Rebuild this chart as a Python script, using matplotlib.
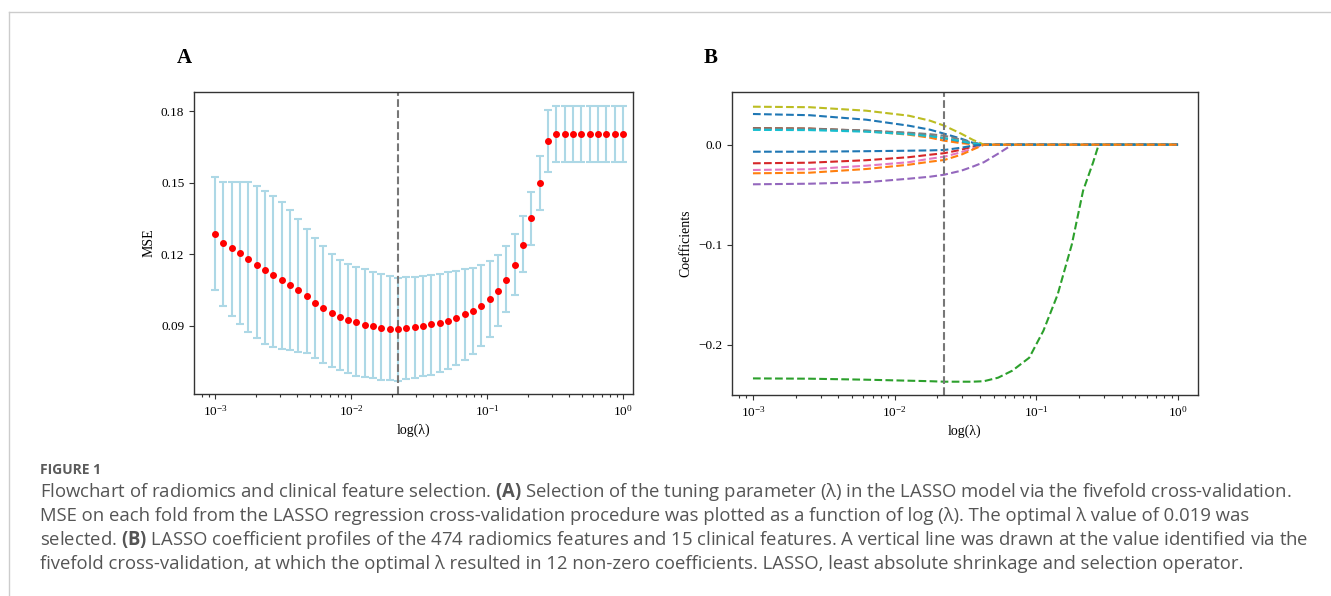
import numpy as np
import matplotlib
matplotlib.use('Agg')
import matplotlib.pyplot as plt
from matplotlib.lines import Line2D

plt.rcParams['font.family'] = ['Liberation Serif', 'DejaVu Serif']
plt.rcParams['mathtext.fontset'] = 'custom'
plt.rcParams['mathtext.bf'] = 'Open Sans:bold'

# ---- panel A: 5-fold CV curve ----
lambdas = np.logspace(-3, 0, 50)
best_idx = 22

mse_mean = [0.1284, 0.1247, 0.1226, 0.1206, 0.1180, 0.1156, 0.1133, 0.1114, 0.1093, 0.1072,
            0.1050, 0.1024, 0.0998, 0.0974, 0.0953, 0.0938, 0.0924, 0.0915, 0.0906, 0.0899,
            0.0893, 0.0887, 0.0886, 0.0892, 0.0896, 0.0901, 0.0907, 0.0913, 0.0921, 0.0935,
            0.0949, 0.0964, 0.0984, 0.1012, 0.1047, 0.1094, 0.1157, 0.1241, 0.1351, 0.1498,
            0.1676, 0.1702, 0.1702, 0.1702, 0.1702, 0.1702, 0.1702, 0.1702, 0.1702, 0.1702]
mse_upper = [0.1522, 0.1505, 0.1505, 0.1505, 0.1501, 0.1487, 0.1466, 0.1444, 0.1418, 0.1384,
             0.1347, 0.1307, 0.1268, 0.1233, 0.1203, 0.1175, 0.1161, 0.1147, 0.1137, 0.1128,
             0.1117, 0.1111, 0.1101, 0.1104, 0.1105, 0.1110, 0.1114, 0.1118, 0.1126, 0.1132,
             0.1137, 0.1143, 0.1154, 0.1172, 0.1196, 0.1234, 0.1287, 0.1360, 0.1462, 0.1613,
             0.1804, 0.1821, 0.1821, 0.1821, 0.1821, 0.1821, 0.1821, 0.1821, 0.1821, 0.1821]
mse_lower = [0.1051, 0.0984, 0.0943, 0.0908, 0.0876, 0.0848, 0.0826, 0.0812, 0.0804, 0.0801,
             0.0792, 0.0785, 0.0767, 0.0746, 0.0729, 0.0714, 0.0703, 0.0692, 0.0686, 0.0681,
             0.0674, 0.0672, 0.0669, 0.0676, 0.0682, 0.0690, 0.0696, 0.0707, 0.0720, 0.0738,
             0.0756, 0.0784, 0.0816, 0.0852, 0.0899, 0.0957, 0.1031, 0.1125, 0.1241, 0.1385,
             0.1546, 0.1585, 0.1585, 0.1585, 0.1585, 0.1585, 0.1585, 0.1585, 0.1585, 0.1585]

# ---- panel B: coefficient paths (log10 lambda grid) ----
log_lam_b = [-3.0, -2.6, -2.2, -1.9, -1.75, -1.65, -1.53, -1.45, -1.37, -1.27,
             -1.17, -1.05, -0.95, -0.85, -0.75, -0.67, -0.60, -0.56, 0.0]
z10 = [0.0] * 10
coef_paths = [
    # blue (top)
    [0.0307, 0.0295, 0.025, 0.019, 0.015, 0.011, 0.006, 0.002, 0.0] + z10,
    # orange
    [0.0165, 0.016, 0.0135, 0.010, 0.007, 0.004, 0.0015, 0.0005, 0.0] + z10,
    # green
    [-0.2337, -0.234, -0.235, -0.236, -0.2365, -0.237, -0.237, -0.237, -0.2365, -0.233,
     -0.226, -0.213, -0.186, -0.150, -0.100, -0.046, -0.018, 0.0, 0.0],
    # red
    [-0.0186, -0.018, -0.0155, -0.0125, -0.010, -0.0085, -0.005, -0.002, 0.0] + z10,
    # purple
    [-0.0396, -0.039, -0.0375, -0.034, -0.032, -0.030, -0.026, -0.022, -0.0175, -0.009,
     0.0, 0.0, 0.0, 0.0, 0.0, 0.0, 0.0, 0.0, 0.0],
    # brown
    [0.0165, 0.0162, 0.014, 0.0115, 0.009, 0.0065, 0.003, 0.001, 0.0] + z10,
    # pink
    [-0.0253, -0.0245, -0.021, -0.0175, -0.014, -0.012, -0.0075, -0.004, 0.0] + z10,
    # gray
    [0.016, 0.0158, 0.014, 0.012, 0.0105, 0.009, 0.005, 0.002, 0.0] + z10,
    # olive
    [0.038, 0.0375, 0.034, 0.029, 0.024, 0.019, 0.011, 0.005, 0.0] + z10,
    # cyan
    [0.0148, 0.0146, 0.013, 0.0105, 0.0085, 0.0065, 0.0035, 0.0012, 0.0] + z10,
    # blue (second)
    [-0.007, -0.007, -0.0065, -0.006, -0.0057, -0.0053, -0.003, -0.001, 0.0] + z10,
    # orange (second)
    [-0.0286, -0.028, -0.0243, -0.020, -0.017, -0.0153, -0.010, -0.005, 0.0] + z10,
]

W, H = 1331, 596
fig = plt.figure(figsize=(W / 100, H / 100), dpi=100)

def style_axes(ax):
    for sp in ax.spines.values():
        sp.set_color('#333333')
        sp.set_linewidth(1.0)
    ax.tick_params(which='both', direction='out', color='#333333', width=0.8)
    ax.tick_params(which='major', length=3.5)
    ax.tick_params(which='minor', length=2)
    ax.tick_params(axis='both', labelsize=9.5)

# panel A
axA = fig.add_axes([194 / W, 1 - 394 / H, 439 / W, 302 / H])
mean = np.array(mse_mean)
yerr = [mean - np.array(mse_lower), np.array(mse_upper) - mean]
axA.errorbar(lambdas, mean, yerr=yerr, fmt='o', color='red', ms=4,
             ecolor='lightblue', elinewidth=1.5, capsize=3, capthick=1.5)
axA.axvline(lambdas[best_idx], color='#777777', ls='--', lw=1.5)
axA.set_xscale('log')
axA.set_xlim(10 ** -3.154, 10 ** 0.074)
axA.set_ylim(0.0615, 0.188)
axA.set_yticks([0.09, 0.12, 0.15, 0.18])
axA.set_xlabel('log(λ)', fontsize=10)
axA.set_ylabel('MSE', fontsize=10)
style_axes(axA)

# panel B
axB = fig.add_axes([732 / W, 1 - 395 / H, 466 / W, 303 / H])
lam_b = 10 ** np.array(log_lam_b)
for path in coef_paths:
    axB.plot(lam_b, path, ls='--', lw=1.5)
axB.axvline(lambdas[best_idx], color='#777777', ls='--', lw=1.5)
axB.set_xscale('log')
axB.set_xlim(10 ** -3.148, 10 ** 0.141)
axB.set_ylim(-0.2503, 0.0527)
axB.set_yticks([-0.2, -0.1, 0.0])
axB.set_xlabel('log(λ)', fontsize=10)
axB.set_ylabel('Coefficients', fontsize=10)
style_axes(axB)

fig.text(184 / W, 1 - 58 / H, 'A', fontsize=15, fontweight='bold', ha='center', va='center')
fig.text(711 / W, 1 - 58 / H, 'B', fontsize=15, fontweight='bold', ha='center', va='center')

# page frame lines
fig.add_artist(Line2D([9 / W, 9 / W], [0, 1 - 12 / H], transform=fig.transFigure,
                      color='#cccccc', lw=1))
fig.add_artist(Line2D([9 / W, 1], [1 - 12 / H, 1 - 12 / H], transform=fig.transFigure,
                      color='#cccccc', lw=1))

# caption
cap_lines = [
    r"Flowchart of radiomics and clinical feature selection. $\mathbf{(A)}$ Selection of the tuning parameter (λ) in the LASSO model via the fivefold cross-validation.",
    "MSE on each fold from the LASSO regression cross-validation procedure was plotted as a function of log (λ). The optimal λ value of 0.019 was",
    r"selected. $\mathbf{(B)}$ LASSO coefficient profiles of the 474 radiomics features and 15 clinical features. A vertical line was drawn at the value identified via the",
    "fivefold cross-validation, at which the optimal λ resulted in 12 non-zero coefficients. LASSO, least absolute shrinkage and selection operator.",
]
fig.text(40 / W, 1 - 474 / H, 'FIGURE 1', family='Open Sans', fontweight='bold',
         fontsize=10, color='#5b5b5b', va='baseline')
cap_texts = []
for i, line in enumerate(cap_lines):
    t = fig.text(40 / W, 1 - (497 + 24 * i) / H, line, family='Open Sans', fontsize=12,
                 color='#555555', va='baseline')
    cap_texts.append(t)

# fit first caption line to the text block width (~1250 px)
renderer = fig.canvas.get_renderer()
w0 = cap_texts[0].get_window_extent(renderer).width
for t in cap_texts:
    t.set_fontsize(12 * 1250 / w0)

fig.savefig('out.png', dpi=100)
